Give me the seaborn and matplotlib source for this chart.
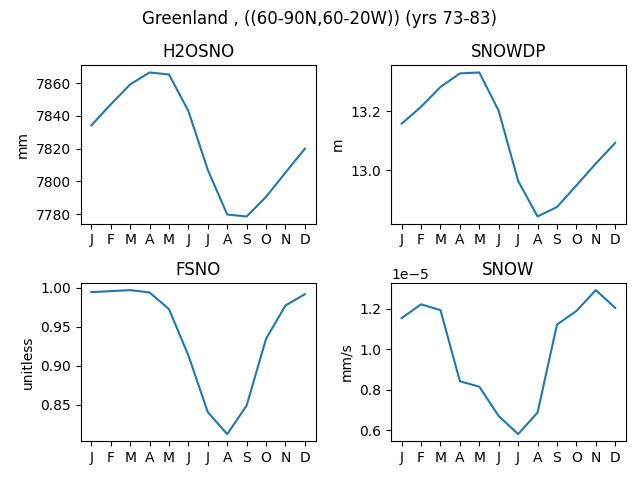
import matplotlib
matplotlib.use("Agg")
import matplotlib.pyplot as plt
import seaborn as sns
import numpy as np
import pandas as pd

months = ["J", "F", "M", "A", "M", "J", "J", "A", "S", "O", "N", "D"]

h2osno = [7834.2, 7847.0, 7859.2, 7866.5, 7865.3, 7843.0, 7807.0, 7779.8, 7778.6, 7790.6, 7805.4, 7820.0]
snowdp = [13.158, 13.215, 13.282, 13.328, 13.331, 13.201, 12.964, 12.844, 12.876, 12.949, 13.023, 13.093]
fsno = [0.9944, 0.9957, 0.9970, 0.9940, 0.9726, 0.9132, 0.8405, 0.8123, 0.8490, 0.9346, 0.9773, 0.9918]
snow = [1.153e-5, 1.221e-5, 1.192e-5, 0.841e-5, 0.814e-5, 0.669e-5, 0.580e-5, 0.687e-5, 1.121e-5, 1.188e-5, 1.291e-5, 1.203e-5]

panels = [
    ("H2OSNO", "mm", h2osno),
    ("SNOWDP", "m", snowdp),
    ("FSNO", "unitless", fsno),
    ("SNOW", "mm/s", snow),
]

fig, axes = plt.subplots(2, 2, figsize=(6.4, 4.8), dpi=100)
fig.suptitle("Greenland , ((60-90N,60-20W)) (yrs 73-83)")
idx = np.arange(len(months))
for ax, (name, unit, vals) in zip(axes.flat, panels):
    df = pd.DataFrame({"month": idx, "value": vals})
    sns.lineplot(data=df, x="month", y="value", ax=ax, color="C0")
    ax.set_title(name)
    ax.set_ylabel(unit)
    ax.set_xlabel("")
    ax.set_xticks(idx)
    ax.set_xticklabels(months)

fig.subplots_adjust(left=0.126, right=0.978, top=0.864, bottom=0.0806,
                    wspace=0.321, hspace=0.374)
fig.savefig("out.png", dpi=100)
